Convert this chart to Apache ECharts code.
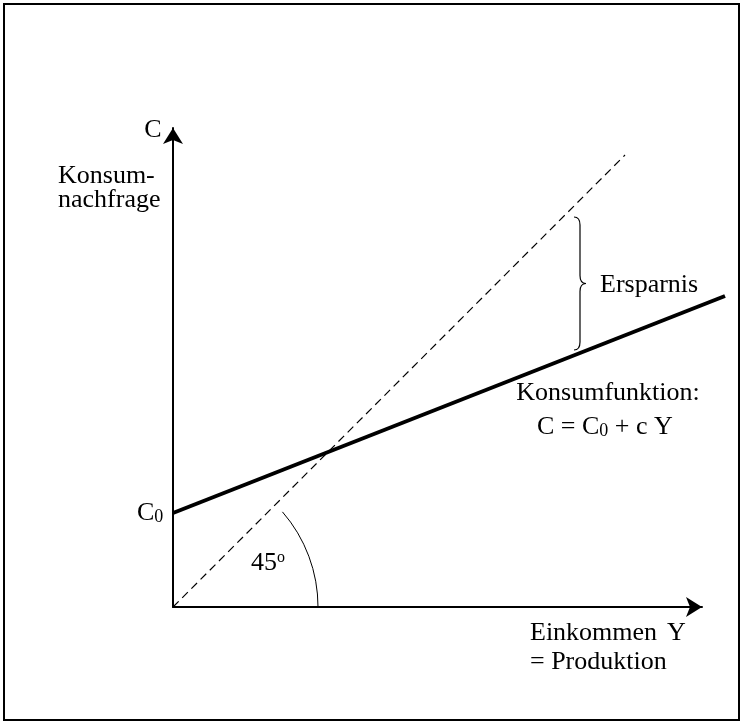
<!DOCTYPE html>
<html>
<head>
<meta charset="utf-8">
<script src="https://cdn.jsdelivr.net/npm/echarts@6/dist/echarts.min.js"></script>
<style>
  html, body { margin: 0; padding: 0; background: #fff; }
  #main { width: 743px; height: 724px; }
</style>
</head>
<body>
<div id="main"></div>
<script>
// Konsumfunktion, Einheiten ~ Pixel im Original
var incomeY      = [0, 552];     // Einkommen Y, Anfang/Ende der Konsumgeraden
var consumption  = [94, 311];    // C = C0 + c Y
var diagonalX    = [0, 452];     // 45-Grad-Linie
var diagonalY    = [0, 452];
var braceX       = 407;          // Ersparnis-Klammer
var braceRange   = [257, 390];
var arcRadius    = 145;
var arcAngle     = 41;           // Grad
var axisMaxX     = 529;
var axisMaxY     = 479;

var serif = "'Liberation Serif', 'Times New Roman', serif";

showChart();

function showChart() {
    var myChart = echarts.init(document.getElementById('main'));

    var option = {
        animation: false,
        grid: {
            left: 173,
            top: 128,
            right: 743 - 173 - axisMaxX,
            bottom: 724 - 607
        },
        xAxis: {
            type: 'value',
            min: 0,
            max: axisMaxX,
            axisLine: {
                show: true,
                symbol: ['none', 'arrow'],
                symbolSize: [15, 16],
                lineStyle: {color: '#000', width: 2}
            },
            axisTick: {show: false},
            axisLabel: {show: false},
            splitLine: {show: false}
        },
        yAxis: {
            type: 'value',
            min: 0,
            max: axisMaxY,
            axisLine: {
                show: true,
                symbol: ['none', 'arrow'],
                symbolSize: [15, 16],
                lineStyle: {color: '#000', width: 2}
            },
            axisTick: {show: false},
            axisLabel: {show: false},
            splitLine: {show: false}
        },
        series: [
            {
                name: '45',
                type: 'line',
                data: [[diagonalX[0], diagonalY[0]], [diagonalX[1], diagonalY[1]]],
                symbol: 'none',
                clip: false,
                lineStyle: {color: '#000', width: 1.2, type: [8, 5]}
            },
            {
                // Konsumgerade, ragt rechts über die Achse hinaus
                type: 'custom',
                clip: false,
                data: [[incomeY[0], consumption[0], incomeY[1], consumption[1]]],
                renderItem: function (params, api) {
                    var a = api.coord([api.value(0), api.value(1)]);
                    var b = api.coord([api.value(2), api.value(3)]);
                    return {
                        type: 'line',
                        shape: {x1: a[0], y1: a[1], x2: b[0], y2: b[1]},
                        style: {stroke: '#000', lineWidth: 4}
                    };
                }
            },
            {
                // Winkelbogen
                type: 'custom',
                clip: false,
                data: [[0, 0]],
                renderItem: function (params, api) {
                    var o = api.coord([0, 0]);
                    var r = api.coord([arcRadius, 0])[0] - o[0];
                    return {
                        type: 'arc',
                        shape: {
                            cx: o[0], cy: o[1], r: r,
                            startAngle: -arcAngle * Math.PI / 180,
                            endAngle: 0,
                            clockwise: true
                        },
                        style: {stroke: '#000', lineWidth: 1, fill: null}
                    };
                }
            },
            {
                // geschweifte Klammer
                type: 'custom',
                clip: false,
                data: [[braceX, braceRange[0], braceRange[1]]],
                renderItem: function (params, api) {
                    var top = api.coord([api.value(0), api.value(2)]);
                    var bot = api.coord([api.value(0), api.value(1)]);
                    var x = top[0], y1 = top[1], y2 = bot[1];
                    var m = (y1 + y2) / 2, w = 6, k = 8;
                    var d = 'M' + (x - w) + ' ' + y1 +
                        ' Q' + x + ' ' + y1 + ' ' + x + ' ' + (y1 + k) +
                        ' L' + x + ' ' + (m - k) +
                        ' Q' + x + ' ' + m + ' ' + (x + w) + ' ' + m +
                        ' Q' + x + ' ' + m + ' ' + x + ' ' + (m + k) +
                        ' L' + x + ' ' + (y2 - k) +
                        ' Q' + x + ' ' + y2 + ' ' + (x - w) + ' ' + y2;
                    return {
                        type: 'path',
                        shape: {pathData: d},
                        style: {stroke: '#000', lineWidth: 1.2, fill: null}
                    };
                }
            }
        ],
        graphic: [
            {
                type: 'rect',
                shape: {x: 4, y: 4, width: 735, height: 716},
                style: {stroke: '#000', lineWidth: 2, fill: null}
            },
            txt(153, 130, 'C', 'center'),
            txt(58, 176, 'Konsum-', 'left'),
            txt(58, 200, 'nachfrage', 'left'),
            txt(600, 285, 'Ersparnis', 'left'),
            txt(608, 393, 'Konsumfunktion:', 'center'),
            {
                type: 'text',
                left: 537, top: 414,
                style: {
                    text: '{n|C = C}{s|0}{n| + c Y}',
                    font: '26px ' + serif,
                    fill: '#000',
                    rich: {
                        n: {fontFamily: serif, fontSize: 26, lineHeight: 32, verticalAlign: 'bottom'},
                        s: {fontFamily: serif, fontSize: 18, lineHeight: 20, verticalAlign: 'bottom'}
                    }
                }
            },
            {
                type: 'text',
                left: 137, top: 500,
                style: {
                    text: '{n|C}{s|0}',
                    font: '26px ' + serif,
                    fill: '#000',
                    rich: {
                        n: {fontFamily: serif, fontSize: 26, lineHeight: 32, verticalAlign: 'bottom'},
                        s: {fontFamily: serif, fontSize: 18, lineHeight: 20, verticalAlign: 'bottom'}
                    }
                }
            },
            {
                type: 'text',
                left: 251, top: 550,
                style: {
                    text: '{n|45}{s|o}',
                    font: '26px ' + serif,
                    fill: '#000',
                    rich: {
                        n: {fontFamily: serif, fontSize: 26, lineHeight: 32, verticalAlign: 'top'},
                        s: {fontFamily: serif, fontSize: 16, lineHeight: 16, verticalAlign: 'top'}
                    }
                }
            },
            txt(530, 633, 'Einkommen', 'left'),
            txt(667, 633, 'Y', 'left'),
            txt(530, 662, '= Produktion', 'left')
        ]
    };
    myChart.setOption(option);
}

function txt(x, y, s, align) {
    return {
        type: 'text',
        x: x, y: y,
        style: {
            text: s,
            font: '26px ' + serif,
            fill: '#000',
            align: align,
            verticalAlign: 'middle'
        }
    };
}
</script>
</body>
</html>
